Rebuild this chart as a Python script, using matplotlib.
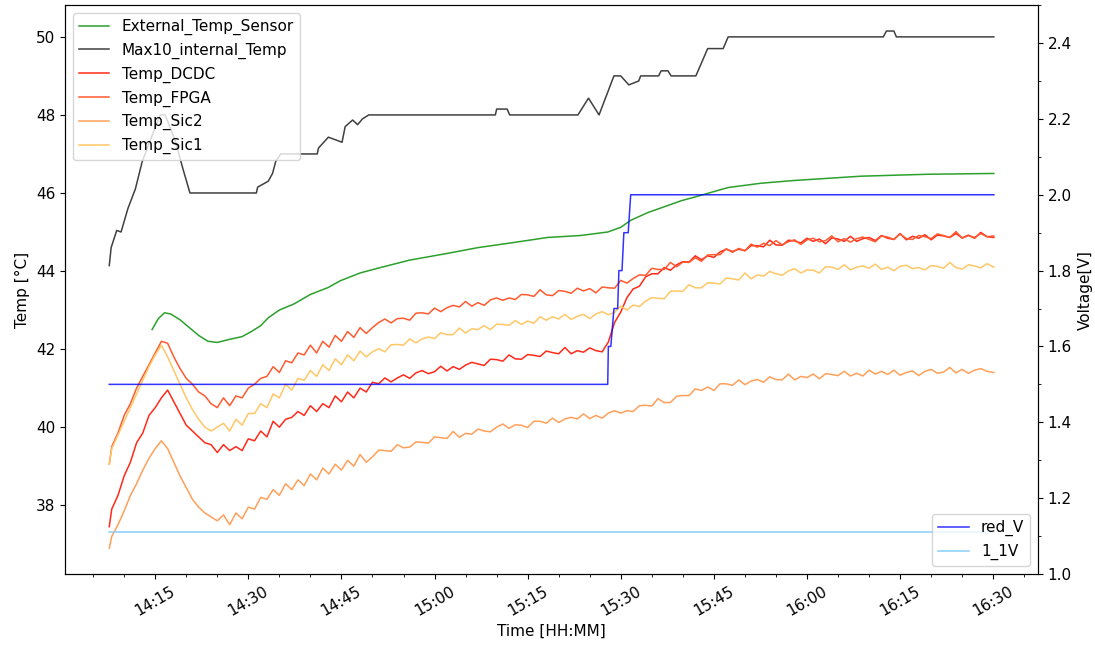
import pandas as pd
import matplotlib
matplotlib.use("Agg")
import matplotlib.pyplot as plt
import matplotlib.dates as mdates
from matplotlib.ticker import AutoMinorLocator

plt.rcParams["font.size"] = 11

# sample times in minutes after 14:00
minutes = [7.6] + list(range(8, 150)) + [150.1]

temp_dcdc = [
    37.45, 37.9, 38.25, 38.75, 39.1, 39.6, 39.85, 40.3, 40.5, 40.75,
    40.95, 40.65, 40.35, 40.05, 39.9, 39.75, 39.6, 39.55, 39.35, 39.55,
    39.4, 39.5, 39.4, 39.7, 39.65, 39.9, 39.75, 40.15, 40.0, 40.2,
    40.25, 40.4, 40.3, 40.55, 40.4, 40.6, 40.5, 40.8, 40.65, 40.9,
    40.75, 41.0, 40.9,
    41.15, 41.11, 41.26, 41.16, 41.26, 41.34, 41.25, 41.39, 41.45, 41.37,
    41.42, 41.56, 41.44, 41.55, 41.48, 41.59, 41.66, 41.62, 41.58, 41.74,
    41.73, 41.69, 41.85, 41.75, 41.74, 41.86, 41.84, 41.81, 41.95, 41.91,
    41.88, 42.04, 41.88, 41.96, 41.92, 42.03, 41.96, 41.93, 42.18, 42.68,
    42.95, 43.32, 43.54, 43.61, 43.85, 43.93, 43.93, 44.09, 44.02, 44.16,
    44.24, 44.23, 44.39, 44.29, 44.39, 44.35, 44.49, 44.56, 44.5, 44.56,
    44.52, 44.65, 44.65, 44.62, 44.79, 44.67, 44.66, 44.79, 44.77, 44.72,
    44.84, 44.76, 44.82, 44.7, 44.85, 44.82, 44.76, 44.89, 44.76, 44.83,
    44.86, 44.78, 44.91, 44.84, 44.81, 44.96, 44.8, 44.89, 44.84, 44.93,
    44.8, 44.92, 44.9, 44.86, 44.96, 44.85, 44.92, 44.84, 44.99, 44.88,
    44.86,
]
temp_fpga = [
    39.05, 39.5, 39.85, 40.3, 40.6, 41.0, 41.3, 41.6, 41.9, 42.2,
    42.15, 41.8, 41.5, 41.25, 41.1, 40.9, 40.8, 40.6, 40.5, 40.75,
    40.55, 40.8, 40.75, 41.0, 41.1, 41.25, 41.3, 41.55, 41.4, 41.7,
    41.65, 41.9, 41.85, 42.1, 41.9, 42.2, 42.05, 42.35, 42.2, 42.45,
    42.3, 42.55, 42.4,
    42.55, 42.68, 42.77, 42.67, 42.78, 42.79, 42.74, 42.92, 42.93, 42.9,
    43.05, 42.96, 43.06, 43.12, 43.08, 43.22, 43.1, 43.19, 43.12, 43.26,
    43.31, 43.25, 43.31, 43.27, 43.4, 43.39, 43.35, 43.52, 43.39, 43.37,
    43.5, 43.48, 43.43, 43.56, 43.49, 43.55, 43.44, 43.59, 43.57, 43.56,
    43.76, 43.69, 43.81, 43.9, 43.89, 44.07, 44.04, 44.04, 44.22, 44.11,
    44.23, 44.22, 44.34, 44.25, 44.41, 44.42, 44.42, 44.57, 44.48, 44.58,
    44.52, 44.69, 44.61, 44.71, 44.65, 44.78, 44.67, 44.75, 44.8, 44.68,
    44.8, 44.84, 44.75, 44.78, 44.9, 44.75, 44.83, 44.74, 44.83, 44.87,
    44.81, 44.75, 44.9, 44.87, 44.81, 44.95, 44.83, 44.81, 44.91, 44.88,
    44.83, 44.95, 44.91, 44.86, 45.01, 44.84, 44.91, 44.86, 44.96, 44.88,
    44.9,
]
temp_sic2 = [
    36.9, 37.2, 37.5, 37.85, 38.25, 38.55, 38.9, 39.2, 39.45, 39.65,
    39.45, 39.1, 38.75, 38.45, 38.15, 37.95, 37.8, 37.7, 37.6, 37.75,
    37.5, 37.8, 37.65, 37.95, 37.9, 38.2, 38.15, 38.4, 38.25, 38.55,
    38.4, 38.65, 38.5, 38.8, 38.65, 38.95, 38.8, 39.05, 38.9, 39.15,
    39.0, 39.3, 39.1,
    39.24, 39.41, 39.4, 39.38, 39.55, 39.47, 39.49, 39.62, 39.61, 39.59,
    39.75, 39.73, 39.71, 39.89, 39.74, 39.84, 39.82, 39.95, 39.9, 39.88,
    40.0, 40.08, 39.97, 40.06, 40.05, 39.99, 40.15, 40.15, 40.1, 40.23,
    40.12, 40.21, 40.25, 40.21, 40.34, 40.22, 40.3, 40.23, 40.36, 40.42,
    40.36, 40.42, 40.4, 40.55, 40.56, 40.54, 40.73, 40.63, 40.63, 40.79,
    40.81, 40.81, 40.98, 40.94, 41.03, 40.94, 41.11, 41.11, 41.07, 41.21,
    41.09, 41.18, 41.22, 41.15, 41.29, 41.22, 41.21, 41.36, 41.21, 41.3,
    41.27, 41.36, 41.24, 41.37, 41.35, 41.32, 41.43, 41.31, 41.38, 41.31,
    41.46, 41.36, 41.43, 41.35, 41.46, 41.33, 41.4, 41.44, 41.32, 41.43,
    41.48, 41.38, 41.41, 41.53, 41.39, 41.48, 41.38, 41.46, 41.5, 41.43,
    41.4,
]
temp_sic1 = [
    39.05, 39.45, 39.8, 40.15, 40.5, 40.85, 41.2, 41.55, 41.85, 42.1,
    41.8, 41.45, 41.1, 40.75, 40.45, 40.2, 40.0, 39.9, 40.0, 40.1,
    39.9, 40.2, 40.05, 40.35, 40.35, 40.6, 40.5, 40.85, 40.75, 41.1,
    40.95, 41.25, 41.2, 41.45, 41.3, 41.6, 41.45, 41.75, 41.6, 41.85,
    41.7, 41.95, 41.8,
    41.93, 42.01, 41.93, 42.11, 42.12, 42.1, 42.26, 42.16, 42.26, 42.31,
    42.27, 42.42, 42.37, 42.37, 42.54, 42.41, 42.52, 42.5, 42.6, 42.5,
    42.64, 42.63, 42.61, 42.73, 42.63, 42.72, 42.66, 42.83, 42.74, 42.83,
    42.77, 42.89, 42.76, 42.84, 42.89, 42.78, 42.9, 42.96, 42.88, 42.94,
    43.1, 43.0, 43.13, 43.09, 43.23, 43.32, 43.3, 43.29, 43.48, 43.49,
    43.48, 43.65, 43.57, 43.57, 43.7, 43.69, 43.67, 43.82, 43.8, 43.77,
    43.95, 43.8, 43.9, 43.87, 43.99, 43.93, 43.89, 44.0, 44.06, 43.95,
    44.03, 44.02, 43.95, 44.11, 44.1, 44.04, 44.16, 44.03, 44.1, 44.13,
    44.07, 44.18, 44.04, 44.1, 44.01, 44.12, 44.15, 44.06, 44.09, 44.03,
    44.14, 44.12, 44.07, 44.22, 44.09, 44.05, 44.16, 44.13, 44.08, 44.19,
    44.1,
]

ext_minutes = [14.5, 15.5, 16.5, 17.5, 19, 20.5, 22, 23.5, 25, 27, 29, 30.5,
               32, 33.2, 35, 37.4, 40, 42.9, 44.8, 48, 51.3, 56, 62, 67, 72.7,
               78.2, 83.5, 87.9, 90, 91.6, 94.4, 97.6, 99.7, 101.8, 107.3,
               112.6, 117.9, 128.7, 139.5, 150.1]
ext_temp = [42.5, 42.78, 42.93, 42.9, 42.75, 42.55, 42.35, 42.2, 42.17, 42.25,
            42.32, 42.45, 42.6, 42.8, 43.0, 43.16, 43.4, 43.58, 43.75, 43.95,
            44.09, 44.28, 44.45, 44.6, 44.73, 44.86, 44.91, 45.0, 45.12, 45.3,
            45.5, 45.68, 45.8, 45.89, 46.14, 46.25, 46.32, 46.43, 46.48, 46.5]

max10_minutes = [7.6, 7.9, 8.8, 9.5, 10.6, 11.8, 12.9, 14.2, 15.8, 16.6, 18.2,
                 19.5, 20.6, 31.3, 31.5, 33.2, 33.9, 34.4, 35.2, 41.1, 41.3,
                 42.9, 45.1, 45.6, 46.8, 47.6, 48.4, 49.4, 69.8, 70.0, 71.7,
                 72.1, 83.1, 84.8, 86.5, 88.9, 90.0, 91.3, 92.9, 93.2, 96.1,
                 96.5, 97.6, 98.1, 102.1, 104.0, 106.5, 107.3, 132.3, 132.8,
                 134.0, 134.4, 150.1]
max10_temp = [44.14, 44.6, 45.04, 45.0, 45.6, 46.1, 46.8, 47.35, 48.0, 48.0,
              47.35, 46.6, 46.0, 46.0, 46.15, 46.3, 46.5, 46.8, 47.0, 47.0,
              47.15, 47.43, 47.3, 47.7, 47.87, 47.75, 47.9, 48.0, 48.0, 48.15,
              48.15, 48.0, 48.0, 48.43, 48.0, 49.0, 49.0, 48.77, 48.87, 49.0,
              49.0, 49.13, 49.13, 49.0, 49.0, 49.7, 49.7, 50.0, 50.0, 50.15,
              50.15, 50.0, 50.0]

red_v_minutes = [7.6, 87.9, 88.0, 88.4, 88.9, 89.5, 89.7, 90.2, 90.5, 91.2, 91.6, 150.1]
red_v = [1.5, 1.5, 1.6, 1.6, 1.7, 1.7, 1.8, 1.8, 1.9, 1.9, 2.0, 2.0]

v11_minutes = [7.6, 150.1]
v11 = [1.11, 1.11]

base = pd.Timestamp("2021-01-01 14:00")


def to_time(mins):
    return (base + pd.to_timedelta(mins, unit="min")).to_pydatetime()


fig, ax = plt.subplots(figsize=(10.95, 6.46), dpi=100)
fig.subplots_adjust(left=0.0594, right=0.948, top=0.992, bottom=0.1115)

ax.plot(to_time(ext_minutes), ext_temp, color="tab:green", lw=1.1, label="External_Temp_Sensor")
ax.plot(to_time(max10_minutes), max10_temp, color="black", alpha=0.75, lw=1.1, label="Max10_internal_Temp")
ax.plot(to_time(minutes), temp_dcdc, color="#ff2a1a", lw=1.1, label="Temp_DCDC")
ax.plot(to_time(minutes), temp_fpga, color="#ff5a30", lw=1.1, label="Temp_FPGA")
ax.plot(to_time(minutes), temp_sic2, color="#ffa05a", lw=1.1, label="Temp_Sic2")
ax.plot(to_time(minutes), temp_sic1, color="#ffc766", lw=1.1, label="Temp_Sic1")
ax.set_ylabel("Temp [°C]")
ax.set_xlabel("Time [HH:MM]")
ax.legend(loc="upper left")

ax2 = ax.twinx()
ax2.plot(to_time(red_v_minutes), red_v, color="blue", alpha=0.8, lw=1.1, label="red_V")
ax2.plot(to_time(v11_minutes), v11, color="lightskyblue", lw=1.1, label="1_1V")
ax2.set_ylim(1.0, 2.5)
ax2.yaxis.set_minor_locator(AutoMinorLocator(2))
ax2.set_ylabel("Voltage[V]")
ax2.legend(loc="lower right")

ax.xaxis.set_major_locator(mdates.MinuteLocator(byminute=[0, 15, 30, 45]))
ax.xaxis.set_minor_locator(mdates.MinuteLocator(byminute=range(0, 60, 5)))
ax.xaxis.set_major_formatter(mdates.DateFormatter("%H:%M"))
for lbl in ax.get_xticklabels():
    lbl.set_rotation(30)

plt.savefig("out.png")
